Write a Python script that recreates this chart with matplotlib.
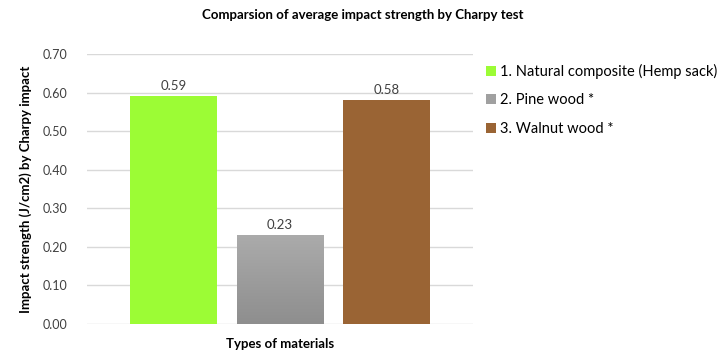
import numpy as np
import matplotlib.pyplot as plt
from matplotlib.patches import Patch

# data
materials = ['1. Natural composite (Hemp sack)', '2. Pine wood *', '3. Walnut wood *']
strength = [0.59, 0.23, 0.58]
colors = ['#9cfc35', '#a0a0a0', '#9a6434']
yticks = [0.0, 0.1, 0.2, 0.3, 0.4, 0.5, 0.6, 0.7]

plt.rcParams['font.family'] = ['Lato', 'DejaVu Sans']

fig = plt.figure(figsize=(7.17, 3.56), dpi=100)
ax = fig.add_axes([87 / 717, 32 / 356, 386 / 717, 270 / 356])

x = np.arange(len(strength))
bars = ax.bar(x, strength, width=0.81, color=colors, zorder=2)

# gray bar gets a vertical gradient like the original
gb = bars[1]
grad = np.linspace(0, 1, 256).reshape(-1, 1)
img = ax.imshow(grad, cmap=plt.matplotlib.colors.LinearSegmentedColormap.from_list(
    'g', ['#8e8e8e', '#ababab']), origin='lower', aspect='auto',
    extent=[gb.get_x(), gb.get_x() + gb.get_width(), 0, gb.get_height()], zorder=3)
img.set_clip_path(gb)

for xi, v in zip(x, strength):
    ax.text(xi, v + 0.012, f'{v:.2f}', ha='center', va='bottom', fontsize=9.5, color='#404040')

ax.set_xlim(-0.81, 2.81)
ax.set_ylim(0, 0.70)
ax.set_yticks(yticks)
ax.set_yticklabels([f'{t:.2f}' for t in yticks], fontsize=9, color='#404040')
ax.set_xticks([])
ax.tick_params(axis='y', length=0, pad=14)
ax.grid(axis='y', color='#d9d9d9', linewidth=1, zorder=0)
for s in ax.spines.values():
    s.set_visible(False)

ax.set_ylabel('Impact strength (J/cm2) by Charpy impact', fontsize=9.5, fontweight='bold', labelpad=8)
ax.set_xlabel('Types of materials', fontsize=9.5, fontweight='bold', labelpad=10)
fig.suptitle('Comparsion of average impact strength by Charpy test', x=0.506, y=0.975,
             fontsize=9.5, fontweight='bold')

handles = [Patch(facecolor=c, label=m) for c, m in zip(colors, materials)]
fig.legend(handles=handles, loc='upper left', bbox_to_anchor=(480 / 717, 1 - 58 / 356),
           frameon=False, fontsize=10.5, handlelength=0.7, handleheight=0.7,
           handletextpad=0.3, labelspacing=1.0, borderaxespad=0)

fig.savefig('out.png', dpi=100)
